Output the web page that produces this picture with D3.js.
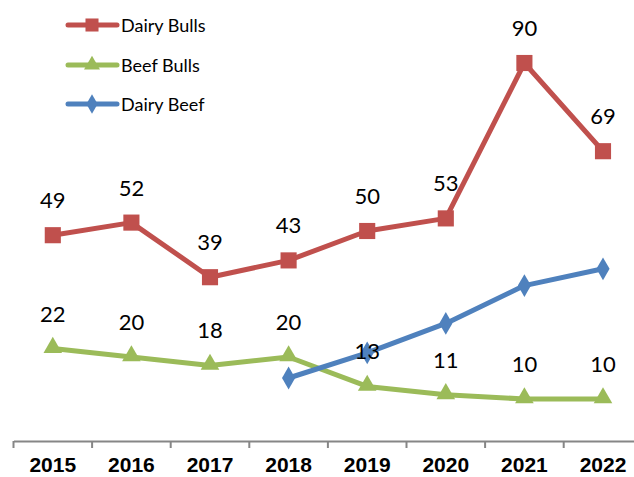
<!DOCTYPE html>
<html>
<head>
<meta charset="utf-8">
<script src="https://cdn.jsdelivr.net/npm/d3@7"></script>
<style>
  body { margin: 0; background: #fff; }
  svg { display: block; }
</style>
</head>
<body>
<svg id="chart" width="634" height="477"></svg>
<script>
// chart data
const years = ['2015', '2016', '2017', '2018', '2019', '2020', '2021', '2022'];
const dairyBulls = [49, 52, 39, 43, 50, 53, 90, 69];
const beefBulls = [22, 20, 18, 20, 13, 11, 10, 10];
const dairyBeef = [null, null, null, 15, 21, 28, 37, 41];

const series = [
    { name: 'Dairy Bulls', values: dairyBulls, color: '#C0504D', marker: 'square', labels: true },
    { name: 'Beef Bulls', values: beefBulls, color: '#9BBB59', marker: 'triangle', labels: true },
    { name: 'Dairy Beef', values: dairyBeef, color: '#4F81BD', marker: 'diamond', labels: false }
];

const svg = d3.select('#chart');

const x = d3.scaleBand()
    .domain(years)
    .range([13.5, 642.3]);

const y = d3.scaleLinear()
    .domain([0, 100])
    .range([441, 21]);

const cx = d => x(d) + x.bandwidth() / 2;

// x axis (ticks sit between categories, like the spreadsheet does it)
const axis = svg.append('g')
    .attr('transform', `translate(0,${y(0)})`)
    .call(d3.axisBottom(x).tickSize(0).tickPadding(16));

axis.select('.domain')
    .attr('stroke', '#868686')
    .attr('stroke-width', 2);

axis.selectAll('text')
    .attr('font-family', 'Liberation Sans, Arial, sans-serif')
    .attr('font-size', 21)
    .attr('font-weight', 'bold')
    .attr('fill', '#000');

axis.selectAll('.boundary')
    .data(years.map(d => x(d)))
    .enter().append('line')
    .attr('class', 'boundary')
    .attr('x1', d => d)
    .attr('x2', d => d)
    .attr('y1', 0)
    .attr('y2', 7)
    .attr('stroke', '#868686')
    .attr('stroke-width', 2);

const markerPath = {
    square: d3.symbol().type(d3.symbolSquare).size(260),
    triangle: d3.symbol().type(d3.symbolTriangle).size(150),
    diamond: d3.symbol().type(d3.symbolDiamond).size(150)
};

const line = d3.line()
    .defined(d => d.v !== null)
    .x(d => cx(d.year))
    .y(d => y(d.v));

// draw series, then markers, then labels
series.forEach(s => {
    const points = years.map((year, i) => ({ year: year, v: s.values[i] }));

    svg.append('path')
        .attr('d', line(points))
        .attr('fill', 'none')
        .attr('stroke', s.color)
        .attr('stroke-width', 5)
        .attr('stroke-linejoin', 'round');

    svg.append('g').selectAll('path')
        .data(points.filter(d => d.v !== null))
        .enter().append('path')
        .attr('d', markerPath[s.marker])
        .attr('transform', d => `translate(${cx(d.year)},${y(d.v) - (s.marker === 'triangle' ? 1 : 0)})`)
        .attr('fill', s.color);
});

series.filter(s => s.labels).forEach(s => {
    svg.append('g').selectAll('text')
        .data(years.map((year, i) => ({ year: year, v: s.values[i] })))
        .enter().append('text')
        .attr('x', d => cx(d.year))
        .attr('y', d => y(d.v) - 27)
        .attr('text-anchor', 'middle')
        .attr('font-family', 'Lato, Carlito, Calibri, sans-serif')
        .attr('font-size', 22)
        .attr('fill', '#000')
        .text(d => d.v);
});

// legend
const legend = svg.append('g');
series.forEach((s, i) => {
    const ly = [25, 65, 104][i];
    legend.append('line')
        .attr('x1', 68).attr('x2', 117)
        .attr('y1', ly).attr('y2', ly)
        .attr('stroke', s.color)
        .attr('stroke-width', 5)
        .attr('stroke-linecap', 'round');
    legend.append('path')
        .attr('d', d3.symbol().type(
            s.marker === 'square' ? d3.symbolSquare :
            s.marker === 'triangle' ? d3.symbolTriangle : d3.symbolDiamond).size(s.marker === 'square' ? 170 : 110))
        .attr('transform', `translate(92,${ly})`)
        .attr('fill', s.color);
    legend.append('text')
        .attr('x', 121)
        .attr('y', ly + 7)
        .attr('font-family', 'Lato, Carlito, Calibri, sans-serif')
        .attr('font-size', 18)
        .attr('fill', '#000')
        .text(s.name);
});
</script>
</body>
</html>
